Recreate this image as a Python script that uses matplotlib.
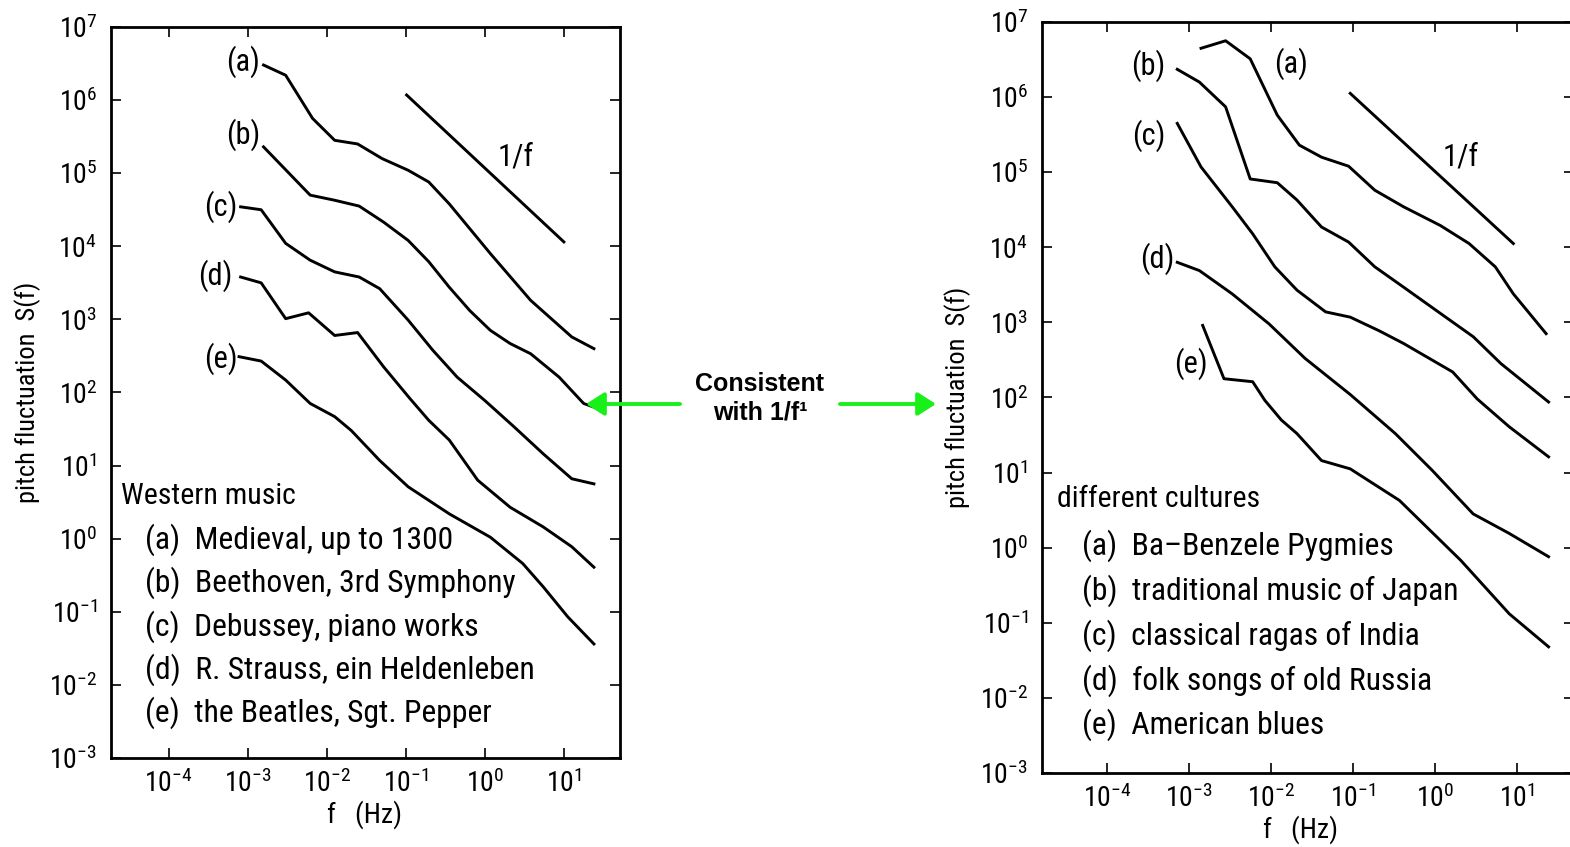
import numpy as np
import matplotlib
matplotlib.use("Agg")
import matplotlib.pyplot as plt
from matplotlib.patches import FancyArrowPatch
from matplotlib.ticker import FixedLocator, NullLocator, LogFormatterSciNotation

FONT = ['Roboto Condensed', 'IBM Plex Sans Condensed', 'DejaVu Sans']
plt.rcParams['font.family'] = FONT

# ---- data: log10(f) and log10(S) ----
# Western music (left panel)
west_a_logf = [-2.80, -2.52, -2.18, -1.90, -1.61, -1.30, -0.97, -0.71, -0.45, 0.07, 0.58, 1.10, 1.38]
west_a_logS = [6.48, 6.34, 5.75, 5.45, 5.40, 5.20, 5.04, 4.88, 4.58, 3.90, 3.26, 2.76, 2.60]
west_b_logf = [-2.80, -2.21, -1.90, -1.59, -1.28, -0.97, -0.71, -0.45, -0.19, 0.07, 0.32, 0.58, 0.94, 1.25, 1.38]
west_b_logS = [5.36, 4.70, 4.63, 4.55, 4.33, 4.08, 3.79, 3.44, 3.12, 2.85, 2.67, 2.53, 2.21, 1.85, 1.80]
west_c_logf = [-3.09, -2.83, -2.52, -2.21, -1.90, -1.59, -1.33, -0.97, -0.66, -0.35, 0.00, 0.37, 0.74, 1.10, 1.38]
west_c_logS = [4.54, 4.50, 4.04, 3.81, 3.65, 3.58, 3.42, 2.99, 2.58, 2.21, 1.89, 1.53, 1.16, 0.82, 0.75]
west_d_logf = [-3.09, -2.83, -2.52, -2.23, -1.90, -1.61, -1.28, -0.95, -0.71, -0.45, -0.09, 0.32, 0.74, 1.10, 1.38]
west_d_logS = [3.58, 3.50, 3.01, 3.09, 2.78, 2.82, 2.35, 1.92, 1.62, 1.35, 0.80, 0.43, 0.16, -0.11, -0.39]
west_e_logf = [-3.11, -2.83, -2.52, -2.21, -1.90, -1.69, -1.33, -0.97, -0.45, 0.07, 0.48, 0.74, 1.05, 1.38]
west_e_logS = [2.49, 2.43, 2.17, 1.85, 1.67, 1.48, 1.07, 0.71, 0.34, 0.02, -0.34, -0.66, -1.07, -1.44]
west_ref_logf = [-0.99, 1.00]
west_ref_logS = [6.07, 4.06]

# different cultures (right panel)
cult_a_logf = [-2.85, -2.55, -2.25, -1.92, -1.65, -1.38, -1.05, -0.73, -0.38, 0.07, 0.42, 0.74, 0.96, 1.36]
cult_a_logS = [6.65, 6.75, 6.51, 5.76, 5.36, 5.20, 5.08, 4.76, 4.54, 4.29, 4.05, 3.74, 3.38, 2.85]
cult_b_logf = [-3.14, -2.87, -2.55, -2.25, -1.92, -1.68, -1.38, -1.05, -0.73, -0.38, 0.07, 0.47, 0.81, 1.39]
cult_b_logS = [6.37, 6.20, 5.87, 4.91, 4.86, 4.63, 4.27, 4.07, 3.74, 3.47, 3.12, 2.81, 2.45, 1.94]
cult_c_logf = [-3.14, -2.85, -2.47, -2.22, -1.95, -1.68, -1.33, -1.03, -0.68, -0.38, 0.22, 0.52, 0.91, 1.39]
cult_c_logS = [5.65, 5.07, 4.54, 4.18, 3.74, 3.43, 3.14, 3.07, 2.89, 2.72, 2.34, 1.98, 1.61, 1.21]
cult_d_logf = [-3.14, -2.87, -2.47, -2.02, -1.58, -1.03, -0.48, -0.03, 0.47, 0.91, 1.39]
cult_d_logS = [3.80, 3.69, 3.38, 2.98, 2.52, 2.04, 1.52, 1.03, 0.45, 0.19, -0.12]
cult_e_logf = [-2.83, -2.57, -2.22, -2.07, -1.87, -1.68, -1.38, -1.03, -0.43, 0.32, 0.91, 1.39]
cult_e_logS = [2.96, 2.25, 2.21, 1.96, 1.70, 1.52, 1.16, 1.05, 0.63, -0.17, -0.88, -1.32]
cult_ref_logf = [-1.03, 0.96]
cult_ref_logS = [6.05, 4.05]

x_tick_exps = [-4, -3, -2, -1, 0, 1]
y_tick_exps = [-3, -2, -1, 0, 1, 2, 3, 4, 5, 6, 7]

curve_labels = ['(a)', '(b)', '(c)', '(d)', '(e)']
west_label_logf = [-3.06, -3.06, -3.34, -3.41, -3.34]
west_label_logS = [6.52, 5.52, 4.54, 3.60, 2.46]
cult_label_logf = [-1.75, -3.49, -3.49, -3.38, -2.97]
cult_label_logS = [6.45, 6.42, 5.49, 3.85, 2.45]

west_title = 'Western music'
west_items = ['(a)  Medieval, up to 1300', '(b)  Beethoven, 3rd Symphony', '(c)  Debussey, piano works',
              '(d)  R. Strauss, ein Heldenleben', '(e)  the Beatles, Sgt. Pepper']
cult_title = 'different cultures'
cult_items = ['(a)  Ba\u2013Benzele Pygmies', '(b)  traditional music of Japan', '(c)  classical ragas of India',
              '(d)  folk songs of old Russia', '(e)  American blues']

W, H = 1570, 847
fig = plt.figure(figsize=(W / 100, H / 100), dpi=100)


def px_axes(x0, x1, y0, y1):
    return fig.add_axes([x0 / W, 1 - y1 / H, (x1 - x0) / W, (y1 - y0) / H])


def setup(ax, xlim_exp, ylab_x, xlab_xy):
    ax.set_xscale('log')
    ax.set_yscale('log')
    ax.set_xlim(10 ** xlim_exp[0], 10 ** xlim_exp[1])
    ax.set_ylim(1e-3, 1e7)
    ax.xaxis.set_major_locator(FixedLocator([10.0 ** e for e in x_tick_exps]))
    ax.yaxis.set_major_locator(FixedLocator([10.0 ** e for e in y_tick_exps]))
    ax.xaxis.set_minor_locator(NullLocator())
    ax.yaxis.set_minor_locator(NullLocator())
    ax.xaxis.set_major_formatter(LogFormatterSciNotation())
    ax.yaxis.set_major_formatter(LogFormatterSciNotation())
    ax.tick_params(which='major', direction='in', length=7, width=1.2, top=True, right=True,
                   labelsize=20)
    ax.tick_params(axis='y', pad=10)
    ax.tick_params(axis='x', pad=8)
    for s in ax.spines.values():
        s.set_linewidth(2.0)
    ax.set_ylabel('pitch fluctuation  S(f)', fontsize=19)
    ax.yaxis.set_label_coords(ylab_x, 0.5)
    ax.set_xlabel('f   (Hz)', fontsize=20)
    ax.xaxis.set_label_coords(*xlab_xy)


def draw_panel(ax, curves, ref, lab_f, lab_S, ref_text_pos, title, items, text_x0, text_x1, y_title, y_items):
    for lf, lS in curves:
        ax.plot(10.0 ** np.array(lf), 10.0 ** np.array(lS), color='black', lw=2.1, solid_joinstyle='round')
    ax.plot(10.0 ** np.array(ref[0]), 10.0 ** np.array(ref[1]), color='black', lw=2.1)
    for t, f, s in zip(curve_labels, lab_f, lab_S):
        ax.text(10 ** f, 10 ** s, t, fontsize=22, ha='center', va='center')
    ax.text(10 ** ref_text_pos[0], 10 ** ref_text_pos[1], '1/f', fontsize=22, ha='center', va='center')
    fig.text(text_x0 / W, 1 - y_title / H, title, fontsize=21.5, ha='left', va='center')
    for it, yy in zip(items, y_items):
        fig.text(text_x1 / W, 1 - yy / H, it, fontsize=22.8, ha='left', va='center')


axL = px_axes(111, 620, 27, 758)
setup(axL, (-4.73, 1.71), -0.1375, (0.499, -0.058))
draw_panel(axL,
           [(west_a_logf, west_a_logS), (west_b_logf, west_b_logS), (west_c_logf, west_c_logS),
            (west_d_logf, west_d_logS), (west_e_logf, west_e_logS)],
           (west_ref_logf, west_ref_logS), west_label_logf, west_label_logS, (0.39, 5.22),
           west_title, west_items, 121, 145, 496, [540, 583, 627, 670, 713])

axR = px_axes(1042, 1574, 22, 773)
setup(axR, (-4.79, 1.70), -0.133, (0.485, -0.056))
draw_panel(axR,
           [(cult_a_logf, cult_a_logS), (cult_b_logf, cult_b_logS), (cult_c_logf, cult_c_logS),
            (cult_d_logf, cult_d_logS), (cult_e_logf, cult_e_logS)],
           (cult_ref_logf, cult_ref_logS), cult_label_logf, cult_label_logS, (0.32, 5.20),
           cult_title, cult_items, 1057, 1082, 499, [546, 591, 636, 681, 725])

# annotation between panels
green = '#19f019'
bold_font = ['Liberation Sans', 'DejaVu Sans']
fig.text(760 / W, 1 - 384 / H, 'Consistent', fontsize=18, fontweight='bold',
         family=bold_font, ha='center', va='center')
fig.text(760 / W, 1 - 412 / H, 'with 1/f\u00b9', fontsize=18, fontweight='bold',
         family=bold_font, ha='center', va='center')
for (x0, x1) in [(680, 586), (840, 936)]:
    fig.patches.append(FancyArrowPatch((x0 / W, 1 - 404 / H), (x1 / W, 1 - 404 / H),
                       transform=fig.transFigure, arrowstyle='-|>,head_length=11,head_width=7',
                       color=green, lw=2.8, mutation_scale=1, shrinkA=0, shrinkB=0))

fig.savefig('out.png', dpi=100)
